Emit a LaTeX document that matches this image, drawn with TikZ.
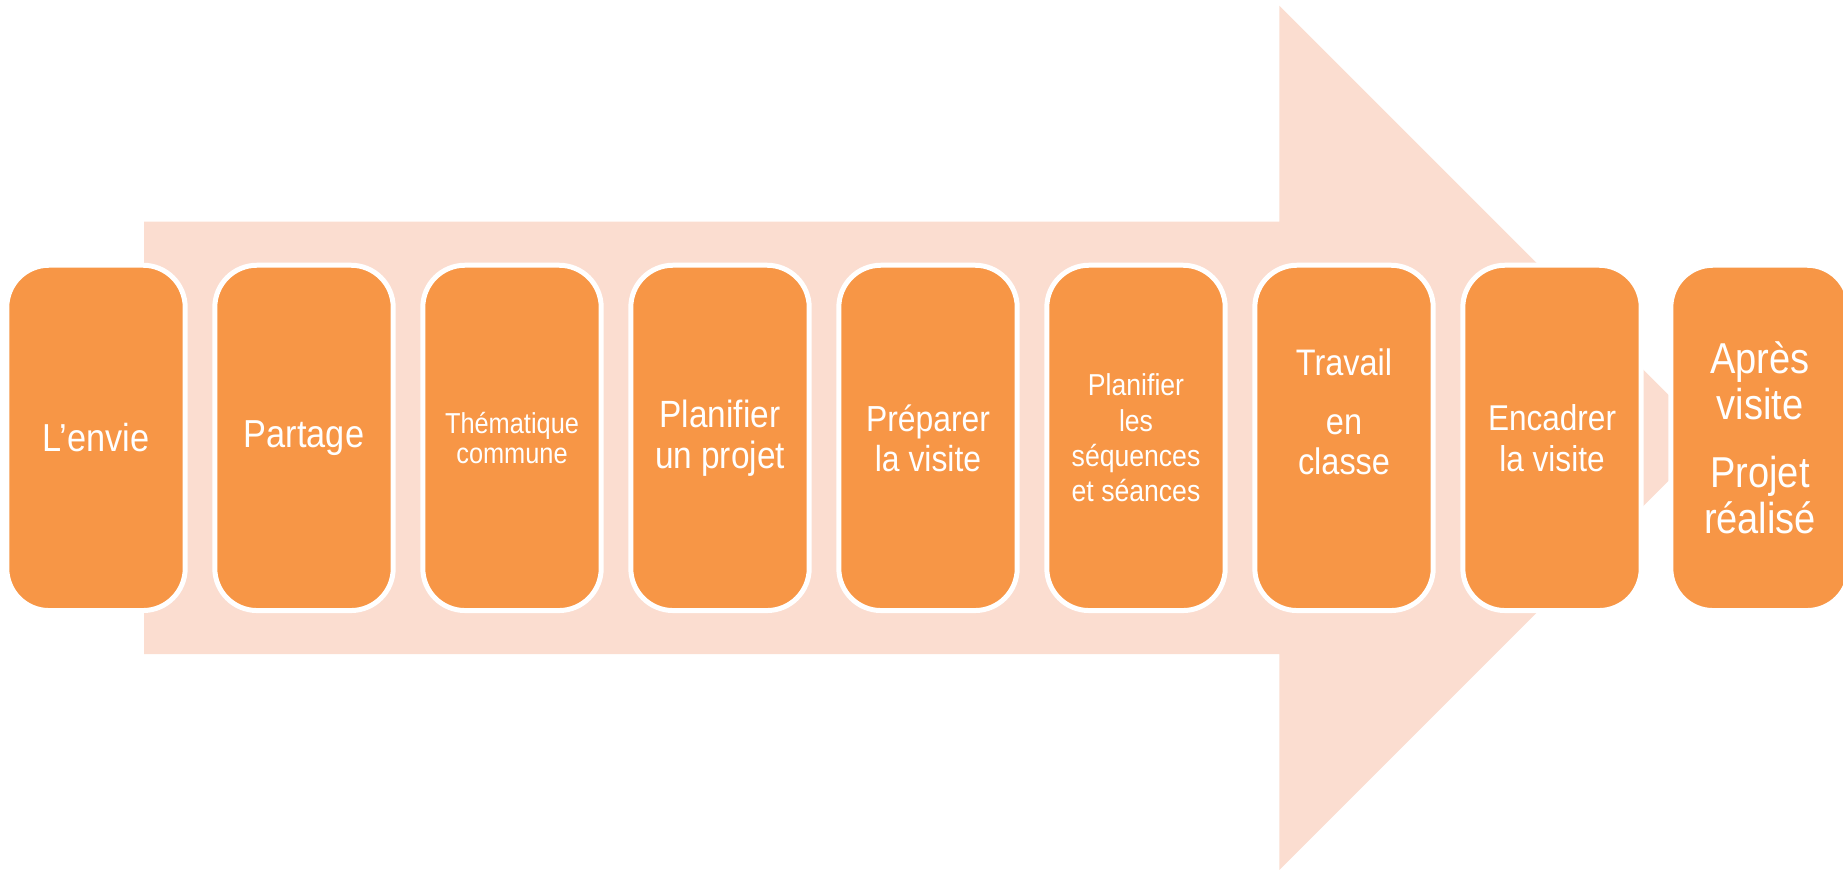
\documentclass[tikz,border=0pt]{standalone}
\usepackage{fontspec}
\setmainfont{Liberation Sans}[FakeStretch=0.88]
\usepackage{xcolor}
\usepackage{tikz}
\usetikzlibrary{positioning}
\definecolor{boxorange}{RGB}{247,150,70}
\definecolor{arrowpink}{RGB}{251,221,208}
\tikzset{
	main node/.style={rectangle,rounded corners=12pt,draw=white,line width=1.42pt,
		fill=boxorange,text=white,align=center,inner sep=0pt,
		minimum width=1.784cm,minimum height=3.453cm},
	big arrow/.style={fill=arrowpink,draw=none}
}

\begin{document}
\begin{tikzpicture}[node distance=2.08cm]
      \useasboundingbox (0,0) rectangle (18.43,8.70);
      \clip (0,0) rectangle (18.43,8.70);

      % arrow behind the steps
      \fill[big arrow] (1.44,2.159) -- (1.44,6.483) -- (12.793,6.483) -- (12.793,8.643)
        -- (17.115,4.321) -- (12.793,0) -- (12.793,2.159) -- cycle;

      \node[main node,font=\fontsize{11.1}{13}\selectfont] (1) at (0.96,4.321) {L’envie};
      \node[main node,font=\fontsize{11.1}{13}\selectfont] (2) [right of=1] {Partage};
      \node[main node,font=\fontsize{8.2}{8.7}\selectfont] (3) [right of=2] {Thématique\\commune};
      \node[main node,font=\fontsize{10.8}{11.7}\selectfont] (4) [right of=3] {Planifier\\un projet};
      \node[main node,font=\fontsize{10.3}{11.4}\selectfont] (5) [right of=4] {Préparer\\la visite};
      \node[main node,font=\fontsize{8.6}{10}\selectfont] (6) [right of=5] {Planifier\\les\\séquences\\et séances};
      \node[main node,font=\fontsize{10.5}{11.4}\selectfont] (7) [right of=6] {Travail\\[5.4pt]en\\classe\\[3.5pt]\mbox{}};
      \node[main node,font=\fontsize{10.2}{11.7}\selectfont] (8) [right of=7] {Encadrer\\la visite};
      \node[main node,font=\fontsize{12.3}{13}\selectfont] (9) [right of=8] {Après\\visite\\[6.4pt]Projet\\réalisé};
    \end{tikzpicture}
\end{document}
